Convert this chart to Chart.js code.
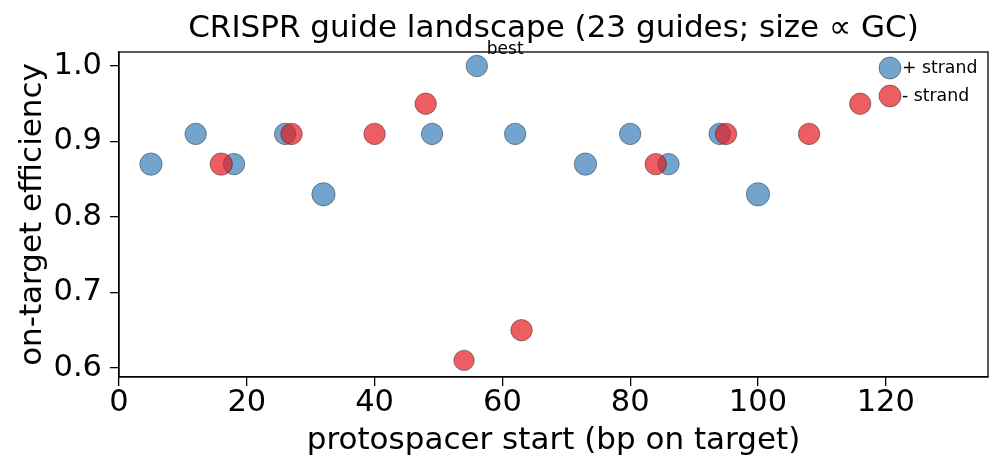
<!DOCTYPE html>
<html>
<head>
<meta charset="utf-8">
<script src="https://cdn.jsdelivr.net/npm/chart.js@4.4.1/dist/chart.umd.min.js"></script>
<style>
  html, body { margin: 0; padding: 0; background: #fff; }
  #wrap { width: 1004px; height: 473px; }
</style>
</head>
<body>
<div id="wrap"><canvas id="guideChart" width="1004" height="473"></canvas></div>
<script>
// guide data
const plusPos = [5, 12, 18, 26, 32, 49, 56, 62, 73, 80, 86, 94, 100];
const plusEff = [0.87, 0.91, 0.87, 0.91, 0.83, 0.91, 1.0, 0.91, 0.87, 0.91, 0.87, 0.91, 0.83];
const plusGC = [0.60, 0.55, 0.55, 0.55, 0.65, 0.55, 0.55, 0.55, 0.60, 0.55, 0.55, 0.55, 0.65];

const minusPos = [16, 27, 40, 48, 54, 63, 84, 95, 108, 116];
const minusEff = [0.87, 0.91, 0.91, 0.95, 0.61, 0.65, 0.87, 0.91, 0.91, 0.95];
const minusGC = [0.60, 0.55, 0.55, 0.55, 0.50, 0.55, 0.55, 0.55, 0.55, 0.55];

const xTicks = [0, 20, 40, 60, 80, 100, 120];
const yTicks = [0.6, 0.7, 0.8, 0.9, 1.0];
const bestGuide = { x: 56, y: 1.0, label: "best" };

const FONT = "'DejaVu Sans', sans-serif";

function toPoints(xs, ys) {
    return xs.map(function (x, i) { return { x: x, y: ys[i] }; });
}
function gcRadius(gc) {
    return gc.map(function (g) { return 14.45 * Math.sqrt(g); });
}

// frame, legend and the "best" note
const extras = {
    id: 'extras',
    afterDraw: function (chart) {
        const ctx = chart.ctx;
        const a = chart.chartArea;
        ctx.save();
        ctx.strokeStyle = '#000';
        ctx.lineWidth = 1.3;
        ctx.strokeRect(a.left, a.top, a.right - a.left, a.bottom - a.top);

        // best annotation
        const bx = chart.scales.x.getPixelForValue(bestGuide.x);
        const by = chart.scales.y.getPixelForValue(bestGuide.y);
        ctx.fillStyle = '#000';
        ctx.font = '17px ' + FONT;
        ctx.textAlign = 'left';
        ctx.textBaseline = 'alphabetic';
        ctx.fillText(bestGuide.label, bx + 10, by - 12);

        // legend
        const items = [chart.data.datasets[1], chart.data.datasets[0]];
        ctx.font = '17.3px ' + FONT;
        ctx.textBaseline = 'middle';
        items.forEach(function (ds, i) {
            const cy = 68 + i * 28;
            const cx = 890;
            ctx.beginPath();
            ctx.arc(cx, cy, 11, 0, Math.PI * 2);
            ctx.fillStyle = ds.backgroundColor;
            ctx.fill();
            ctx.lineWidth = 0.6;
            ctx.strokeStyle = ds.borderColor;
            ctx.stroke();
            ctx.fillStyle = '#000';
            ctx.fillText(ds.label, cx + 12, cy + 1);
        });
        ctx.restore();
    }
};

new Chart(document.getElementById('guideChart'), {
    type: 'scatter',
    data: {
        datasets: [
            {
                label: '- strand',
                data: toPoints(minusPos, minusEff),
                pointRadius: gcRadius(minusGC),
                pointHoverRadius: gcRadius(minusGC),
                backgroundColor: 'rgba(228, 26, 28, 0.7)',
                borderColor: 'rgba(40, 40, 40, 0.8)',
                borderWidth: 0.6,
                order: 0
            },
            {
                label: '+ strand',
                data: toPoints(plusPos, plusEff),
                pointRadius: gcRadius(plusGC),
                pointHoverRadius: gcRadius(plusGC),
                backgroundColor: 'rgba(55, 126, 184, 0.7)',
                borderColor: 'rgba(40, 40, 40, 0.8)',
                borderWidth: 0.6,
                order: 1
            }
        ]
    },
    options: {
        responsive: false,
        devicePixelRatio: 1,
        animation: false,
        layout: { padding: { top: 0, right: 16, left: 0, bottom: 0 } },
        plugins: {
            legend: { display: false },
            tooltip: { enabled: false },
            title: {
                display: true,
                fullSize: false,
                text: 'CRISPR guide landscape (23 guides; size \u221d GC)',
                color: '#000',
                font: { family: FONT, size: 31, weight: 'normal', lineHeight: 1.2 },
                padding: { top: 10.4, bottom: 4.4 }
            }
        },
        scales: {
            x: {
                type: 'linear',
                min: 0,
                max: 136,
                afterFit: function (s) { s.height = 96; },
                afterBuildTicks: function (s) { s.ticks = xTicks.map(function (v) { return { value: v }; }); },
                grid: { drawOnChartArea: false, drawTicks: true, tickLength: 9, color: '#000', lineWidth: 1.3 },
                border: { display: true, color: '#000', width: 1.3 },
                ticks: { color: '#000', padding: -1, maxRotation: 0, font: { family: FONT, size: 30.5 } },
                title: {
                    display: true,
                    text: 'protospacer start (bp on target)',
                    color: '#000',
                    font: { family: FONT, size: 31 },
                    padding: { top: 0, bottom: 13.4 }
                }
            },
            y: {
                type: 'linear',
                min: 0.588,
                max: 1.0185,
                afterFit: function (s) { s.width = 119; },
                afterBuildTicks: function (s) { s.ticks = yTicks.map(function (v) { return { value: v }; }); },
                grid: { drawOnChartArea: false, drawTicks: true, tickLength: 9, color: '#000', lineWidth: 1.3 },
                border: { display: true, color: '#000', width: 1.3 },
                ticks: {
                    color: '#000',
                    padding: 8,
                    font: { family: FONT, size: 30.5 },
                    callback: function (v) { return Number(v).toFixed(1); }
                },
                title: {
                    display: true,
                    text: 'on-target efficiency',
                    color: '#000',
                    font: { family: FONT, size: 31 },
                    padding: { top: 14.7, bottom: 0 }
                }
            }
        }
    },
    plugins: [extras]
});
</script>
</body>
</html>
